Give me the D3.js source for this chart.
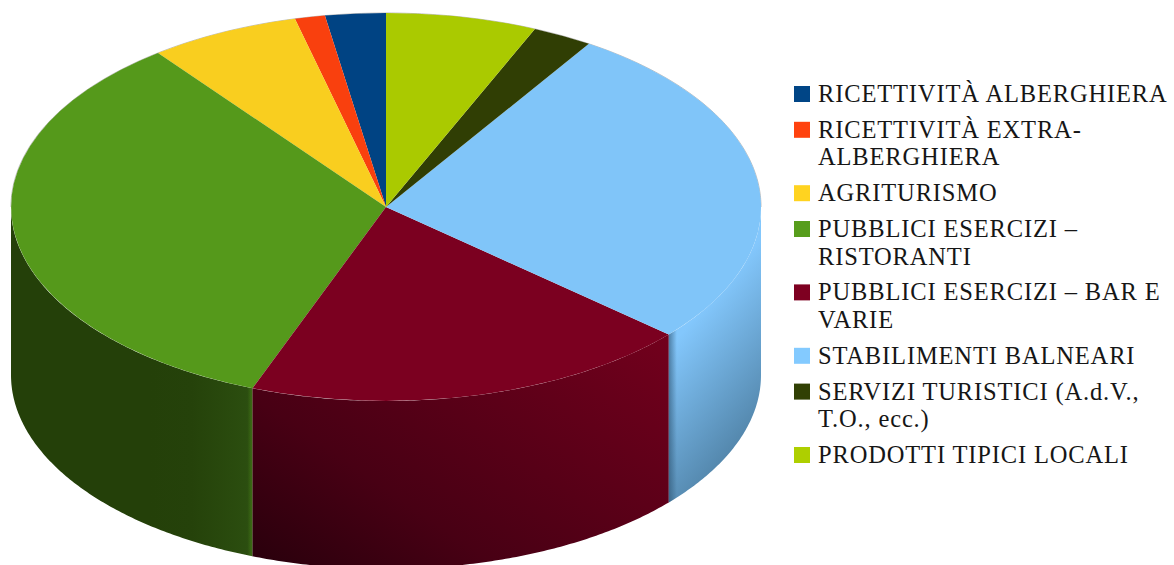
<!DOCTYPE html>
<html lang="it">
<head>
<meta charset="utf-8">
<title>Imprese turistiche per tipologia</title>
<script src="https://cdn.jsdelivr.net/npm/d3@7/dist/d3.min.js"></script>
<style>
  html, body { margin: 0; padding: 0; background: #fff; overflow: hidden; }
  svg { display: block; }
  .legend text { font-family: "Liberation Serif", serif; font-size: 24.5px; letter-spacing: 0.85px; fill: #161616; }
</style>
</head>
<body>
<svg id="chart" width="1174" height="565"></svg>
<script>
// Categories, in legend order; each entry lists its wrapped legend lines.
const categories = [
  ["RICETTIVITÀ ALBERGHIERA"],
  ["RICETTIVITÀ EXTRA-", "ALBERGHIERA"],
  ["AGRITURISMO"],
  ["PUBBLICI ESERCIZI –", "RISTORANTI"],
  ["PUBBLICI ESERCIZI – BAR E", "VARIE"],
  ["STABILIMENTI BALNEARI"],
  ["SERVIZI TURISTICI (A.d.V.,", "T.O., ecc.)"],
  ["PRODOTTI TIPICI LOCALI"]
];

// Share of each category, in percent.
const shares = [2.6, 1.3, 6.5, 33.8, 19.4, 27.3, 2.6, 6.5];

const colors = ["#004586", "#ff420e", "#ffd320", "#579d1c", "#7e0021", "#83caff", "#314004", "#aecf00"];

const svg = d3.select("#chart");
const defs = svg.append("defs");

// The disc is a unit circle projected through two scales; the wall hangs below it.
const x = d3.scaleLinear().domain([-1, 1]).range([11, 761]);
const y = d3.scaleLinear().domain([-1, 1]).range([13, 401]);
const depth = 168;

// Slices run counter-clockwise from twelve o'clock.
const pie = d3.pie().sort(null).startAngle(2 * Math.PI).endAngle(0);
const arcs = pie(shares);

const rimX = a => x(Math.sin(a));
const rimY = a => y(-Math.cos(a));

function sampleAngles(a0, a1) {
  const n = Math.max(2, Math.ceil(Math.abs(a1 - a0) / 0.01));
  return d3.range(n + 1).map(i => a0 + (a1 - a0) * i / n);
}

// Wall outline for the part of a slice facing the viewer (angles between 90 and 270 degrees).
function wallPath(a0, a1) {
  const angles = sampleAngles(a0, a1);
  const top = angles.map(a => [rimX(a), rimY(a)]);
  const bottom = angles.slice().reverse().map(a => [rimX(a), rimY(a) + depth]);
  return d3.line()(top.concat(bottom)) + "Z";
}

function addGradient(id, x1, y1, x2, y2, stops) {
  const g = defs.append("linearGradient").attr("id", id)
    .attr("gradientUnits", "userSpaceOnUse")
    .attr("x1", x1).attr("y1", y1).attr("x2", x2).attr("y2", y2);
  stops.forEach(([offset, color, opacity]) => g.append("stop")
    .attr("offset", offset).attr("stop-color", color)
    .attr("stop-opacity", opacity === undefined ? 1 : opacity));
}

// Angles of the visible wall for each slice.
const wallSpans = arcs.map(d => {
  const lo = Math.max(d.endAngle, Math.PI / 2);
  const hi = Math.min(d.startAngle, 3 * Math.PI / 2);
  return { index: d.index, lo, hi };
}).filter(s => s.hi > s.lo);

// Base shading per wall section: the blue side darkens towards the lower right,
// the dark red side towards the lower left.
const iGreen = 3, iBlue = 5;
const seamBlueAngle = arcs[iBlue].startAngle;
const seamGreenAngle = arcs[iGreen].endAngle;
const edgeBlue = rimX(seamBlueAngle);
const edgeGreen = rimX(seamGreenAngle);

addGradient("wall-3", 150, 0, edgeGreen, 0, [[0, "#244009"], [0.4, "#25420a"], [1, "#2c4f10"]]);
addGradient("wall-4", 327, 599, 623, 173, [[0, "#2c000d"], [0.24, "#480014"], [0.76, "#70001c"], [1, "#7a0020"]]);
addGradient("wall-5", 668, 350, 774, 438, [[0, "#83c7fc"], [1, "#4a7a9c"]]);

const wallLayer = svg.append("g");
wallLayer.selectAll("path.wall")
  .data(wallSpans)
  .join("path")
  .attr("class", "wall")
  .attr("d", s => wallPath(s.lo, s.hi))
  .attr("fill", s => `url(#wall-${s.index})`);

// Narrow shading bands along the two vertical seams of the wall.
addGradient("seam-blue", edgeBlue, 0, edgeBlue + 8, 0, [[0, "#2a4f6c", 0.6], [1, "#2a4f6c", 0]]);
addGradient("seam-green", edgeGreen - 5, 0, edgeGreen, 0, [[0, "#579d1c", 0], [1, "#579d1c", 0.4]]);
wallLayer.append("path")
  .attr("d", wallPath(seamBlueAngle - 0.12, seamBlueAngle))
  .attr("fill", "url(#seam-blue)");
wallLayer.append("path")
  .attr("d", wallPath(seamGreenAngle, seamGreenAngle + 0.14))
  .attr("fill", "url(#seam-green)");

// Faint grey outline along the back edge of the disc.
svg.append("path")
  .attr("d", d3.line()(sampleAngles(-Math.PI / 2, Math.PI / 2).map(a => [rimX(a), rimY(a)])))
  .attr("fill", "none")
  .attr("stroke", "#8a8a8a")
  .attr("stroke-opacity", 0.55)
  .attr("stroke-width", 1);

// Top face of the disc.
const arc = d3.arc().innerRadius(0).outerRadius(1);
svg.append("g")
  .attr("transform", `translate(${x(0)},${y(0)}) scale(${(x(1) - x(-1)) / 2},${(y(1) - y(-1)) / 2})`)
  .selectAll("path")
  .data(arcs)
  .join("path")
  .attr("d", arc)
  .attr("fill", d => d3.color(colors[d.index]).darker(0.07).formatHex());

// Legend, stepped by the number of wrapped lines in each entry.
const legendLeft = 794, textLeft = 818, markerSize = 16;
const firstBaseline = 102, entryStep = 35.8, lineStep = 27.6;
let baseline = firstBaseline;
const legend = svg.append("g").attr("class", "legend");
categories.forEach((lines, i) => {
  legend.append("rect")
    .attr("x", legendLeft).attr("y", baseline - markerSize)
    .attr("width", markerSize).attr("height", markerSize)
    .attr("fill", colors[i]);
  lines.forEach((line, j) => {
    legend.append("text")
      .attr("x", textLeft).attr("y", baseline + j * lineStep)
      .text(line);
  });
  baseline += entryStep + (lines.length - 1) * lineStep;
});
</script>
</body>
</html>
